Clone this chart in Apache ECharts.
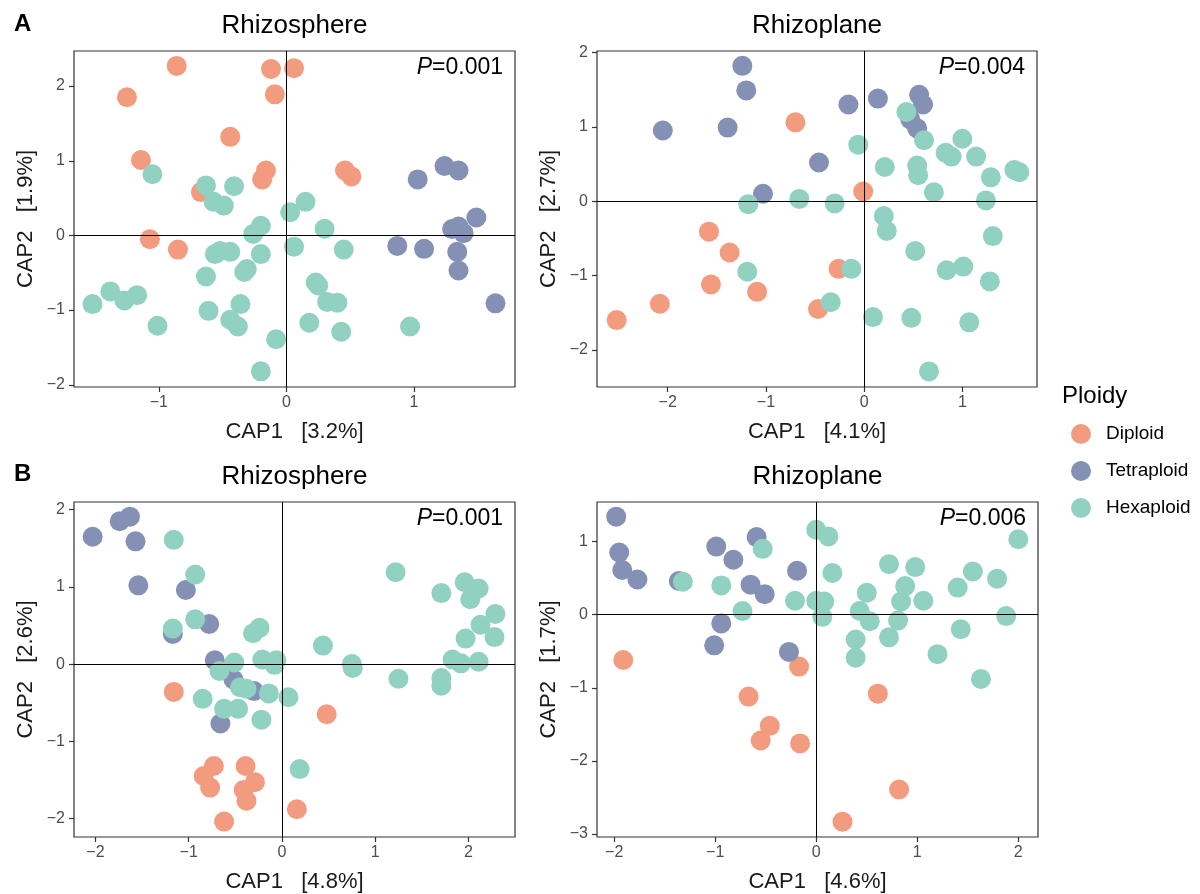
<!DOCTYPE html>
<html>
<head>
<meta charset="utf-8">
<script src="https://cdn.jsdelivr.net/npm/echarts@6/dist/echarts.min.js"></script>
<style>
  html, body { margin: 0; padding: 0; background: #fff; }
  #chart { width: 1200px; height: 894px; }
</style>
</head>
<body>
<div id="chart"></div>
<script>
// ---- data ----
const groups = ['Diploid', 'Tetraploid', 'Hexaploid'];
const colors = ['#F39B7F', '#8491B4', '#91D1C2'];

// A, Rhizosphere
const aSphereDiploid = [[-0.86, 2.27], [-1.25, 1.85], [-0.12, 2.23], [0.06, 2.24], [-0.09, 1.89], [-0.44, 1.32],
  [-1.14, 1.01], [-0.16, 0.87], [-0.19, 0.75], [0.46, 0.87], [0.51, 0.79], [-0.67, 0.58], [-1.07, -0.05], [-0.85, -0.19]];
const aSphereTetraploid = [[1.03, 0.75], [1.24, 0.93], [1.35, 0.87], [1.49, 0.24], [1.30, 0.085], [1.35, 0.12],
  [1.39, 0.03], [0.87, -0.14], [1.08, -0.18], [1.34, -0.22], [1.35, -0.47], [1.64, -0.91]];
const aSphereHexaploid = [[-1.05, 0.82], [-0.63, 0.67], [-0.41, 0.66], [-0.57, 0.45], [-0.49, 0.40], [0.15, 0.45],
  [0.03, 0.31], [-0.20, 0.13], [-0.26, 0.02], [0.30, 0.09], [-0.56, -0.25], [-0.52, -0.21], [-0.44, -0.22],
  [-0.20, -0.25], [0.06, -0.15], [0.45, -0.19], [-0.33, -0.49], [-0.31, -0.45], [-0.63, -0.55], [0.23, -0.63],
  [0.25, -0.67], [-1.38, -0.75], [-1.27, -0.87], [-1.17, -0.80], [-1.52, -0.92], [-0.36, -0.92], [-0.61, -1.01],
  [0.32, -0.89], [0.40, -0.90], [-1.01, -1.21], [-0.44, -1.13], [-0.38, -1.22], [0.18, -1.17], [0.43, -1.29],
  [0.97, -1.22], [-0.08, -1.39], [-0.20, -1.82]];

// A, Rhizoplane
const aPlaneDiploid = [[-2.52, -1.60], [-2.08, -1.38], [-1.58, -0.41], [-1.37, -0.69], [-1.56, -1.12], [-1.09, -1.22],
  [-0.70, 1.06], [-0.01, 0.13], [-0.26, -0.91], [-0.47, -1.45]];
const aPlaneTetraploid = [[-1.24, 1.82], [-1.20, 1.49], [-2.05, 0.95], [-1.39, 0.99], [-0.16, 1.30], [0.14, 1.38],
  [-0.46, 0.52], [-1.03, 0.10], [0.56, 1.43], [0.60, 1.30], [0.47, 1.10], [0.54, 0.98]];
const aPlaneHexaploid = [[0.43, 1.20], [0.61, 0.82], [-0.06, 0.76], [1.00, 0.84], [0.83, 0.65], [0.89, 0.60],
  [1.14, 0.60], [0.21, 0.46], [0.54, 0.48], [0.55, 0.35], [1.53, 0.42], [1.58, 0.39], [1.29, 0.32], [0.71, 0.12],
  [1.24, 0.01], [-0.66, 0.03], [-0.30, -0.03], [-1.18, -0.04], [0.20, -0.20], [0.23, -0.40], [1.31, -0.47],
  [0.52, -0.67], [-0.13, -0.91], [-1.19, -0.95], [0.84, -0.93], [1.01, -0.88], [1.28, -1.08], [-0.34, -1.36],
  [0.09, -1.56], [0.48, -1.57], [1.07, -1.63], [0.66, -2.29]];

// B, Rhizosphere
const bSphereDiploid = [[-1.16, -0.36], [0.48, -0.65], [-0.73, -1.32], [-0.84, -1.45], [-0.77, -1.60], [-0.39, -1.32],
  [-0.29, -1.53], [-0.41, -1.63], [-0.38, -1.77], [0.16, -1.88], [-0.62, -2.04]];
const bSphereTetraploid = [[-2.03, 1.65], [-1.74, 1.85], [-1.63, 1.91], [-1.57, 1.59], [-1.54, 1.02], [-1.03, 0.96],
  [-0.78, 0.52], [-1.17, 0.39], [-0.72, 0.05], [-0.52, -0.20], [-0.30, -0.35], [-0.66, -0.77]];
const bSphereHexaploid = [[-1.16, 1.61], [-0.93, 1.16], [-0.93, 0.58], [-1.17, 0.46], [-0.31, 0.40], [-0.24, 0.47],
  [-0.51, 0.02], [-0.67, -0.09], [-0.21, 0.06], [-0.06, 0.05], [-0.08, -0.01], [-0.45, -0.30], [-0.38, -0.32],
  [-0.14, -0.38], [0.07, -0.43], [-0.85, -0.45], [-0.62, -0.58], [-0.47, -0.58], [-0.22, -0.72], [0.44, 0.24],
  [0.75, 0.00], [0.76, -0.05], [1.22, 1.19], [1.25, -0.19], [1.71, 0.92], [1.96, 1.06], [2.11, 0.98], [2.02, 0.84],
  [2.29, 0.65], [2.13, 0.51], [1.97, 0.33], [2.28, 0.35], [1.83, 0.06], [1.92, 0.01], [2.11, 0.03], [1.71, -0.18],
  [1.71, -0.28], [0.19, -1.36]];

// B, Rhizoplane
const bPlaneDiploid = [[-1.91, -0.62], [-0.17, -0.71], [-0.67, -1.12], [-0.46, -1.52], [-0.55, -1.72], [-0.16, -1.76],
  [0.61, -1.08], [0.82, -2.39], [0.26, -2.83]];
const bPlaneTetraploid = [[-1.98, 1.34], [-1.95, 0.85], [-1.92, 0.61], [-1.77, 0.48], [-1.36, 0.46], [-0.99, 0.93],
  [-0.82, 0.75], [-0.59, 1.06], [-0.65, 0.41], [-0.51, 0.28], [-0.19, 0.60], [-0.94, -0.12], [-1.01, -0.42],
  [-0.27, -0.51]];
const bPlaneHexaploid = [[-1.32, 0.45], [-0.53, 0.90], [-0.94, 0.40], [-0.73, 0.05], [-0.21, 0.19], [0.00, 1.16],
  [0.12, 1.07], [0.16, 0.57], [0.00, 0.19], [0.08, 0.18], [0.06, -0.03], [0.43, 0.05], [0.50, 0.30], [0.53, -0.09],
  [0.39, -0.34], [0.39, -0.59], [0.72, 0.69], [0.88, 0.39], [0.84, 0.18], [0.81, -0.08], [0.72, -0.31], [0.98, 0.65],
  [1.06, 0.19], [1.40, 0.37], [1.55, 0.59], [1.43, -0.20], [1.20, -0.54], [1.79, 0.49], [1.88, -0.02], [2.00, 1.03],
  [1.63, -0.88]];

// tick labels
const aSphereXTicks = [-1, 0, 1];
const aSphereYTicks = [-2, -1, 0, 1, 2];
const aPlaneXTicks = [-2, -1, 0, 1];
const aPlaneYTicks = [-2, -1, 0, 1, 2];
const bSphereXTicks = [-2, -1, 0, 1, 2];
const bSphereYTicks = [-2, -1, 0, 1, 2];
const bPlaneXTicks = [-2, -1, 0, 1, 2];
const bPlaneYTicks = [-3, -2, -1, 0, 1];

const panels = [
  { title: 'Rhizosphere', p: '0.001', xName: 'CAP1   [3.2%]', yName: 'CAP2   [1.9%]',
    grid: { left: 74, top: 51, width: 441, height: 336 }, xRange: [-1.665, 1.793], yRange: [-2.03, 2.47],
    xTicks: aSphereXTicks, yTicks: aSphereYTicks, data: [aSphereDiploid, aSphereTetraploid, aSphereHexaploid] },
  { title: 'Rhizoplane', p: '0.004', xName: 'CAP1   [4.1%]', yName: 'CAP2   [2.7%]',
    grid: { left: 597, top: 51, width: 440, height: 336 }, xRange: [-2.72, 1.76], yRange: [-2.50, 2.02],
    xTicks: aPlaneXTicks, yTicks: aPlaneYTicks, data: [aPlaneDiploid, aPlaneTetraploid, aPlaneHexaploid] },
  { title: 'Rhizosphere', p: '0.001', xName: 'CAP1   [4.8%]', yName: 'CAP2   [2.6%]',
    grid: { left: 74, top: 502, width: 441, height: 335 }, xRange: [-2.23, 2.50], yRange: [-2.24, 2.10],
    xTicks: bSphereXTicks, yTicks: bSphereYTicks, data: [bSphereDiploid, bSphereTetraploid, bSphereHexaploid] },
  { title: 'Rhizoplane', p: '0.006', xName: 'CAP1   [4.6%]', yName: 'CAP2   [1.7%]',
    grid: { left: 597, top: 502, width: 441, height: 335 }, xRange: [-2.17, 2.195], yRange: [-3.04, 1.54],
    xTicks: bPlaneXTicks, yTicks: bPlaneYTicks, data: [bPlaneDiploid, bPlaneTetraploid, bPlaneHexaploid] }
];

const FONT = '"Liberation Sans", Arial, Helvetica, sans-serif';
const minus = v => String(v).replace('-', '\u2212');

const chart = echarts.init(document.getElementById('chart'));

const grids = [], xAxes = [], yAxes = [], series = [], titles = [];

panels.forEach((pn, i) => {
  grids.push(Object.assign({ show: true, borderColor: '#333', borderWidth: 1.2, backgroundColor: '#fff' }, pn.grid));

  const axisCommon = {
    axisLine: { show: false, onZero: false },
    splitLine: { show: false },
    nameTextStyle: { fontFamily: FONT, fontSize: 22, color: '#1a1a1a' },
    nameLocation: 'middle'
  };
  const tick = { show: true, length: 5, lineStyle: { color: '#333', width: 1.2 } };
  const label = { formatter: minus, fontFamily: FONT, fontSize: 16, color: '#4d4d4d' };

  xAxes.push(Object.assign({}, axisCommon, {
    type: 'value', gridIndex: i, position: 'bottom', min: pn.xRange[0], max: pn.xRange[1],
    name: pn.xName, nameGap: 34,
    axisTick: Object.assign({ customValues: pn.xTicks }, tick),
    axisLabel: Object.assign({ customValues: pn.xTicks, margin: 8 }, label)
  }));

  yAxes.push(Object.assign({}, axisCommon, {
    type: 'value', gridIndex: i, position: 'left', min: pn.yRange[0], max: pn.yRange[1],
    name: pn.yName, nameGap: 37,
    axisTick: Object.assign({ customValues: pn.yTicks }, tick),
    axisLabel: Object.assign({ customValues: pn.yTicks, margin: 9 }, label)
  }));

  groups.forEach((g, k) => {
    series.push({
      name: g, type: 'scatter', xAxisIndex: i, yAxisIndex: i,
      data: pn.data[k], symbolSize: 20,
      itemStyle: { color: colors[k], opacity: 1 },
      emphasis: { disabled: true },
      z: 2
    });
  });

  // zero lines
  series.push({
    type: 'scatter', xAxisIndex: i, yAxisIndex: i, data: [], z: 5,
    markLine: {
      silent: true, symbol: 'none', animation: false,
      label: { show: false },
      lineStyle: { color: '#000', width: 1, type: 'solid' },
      data: [{ xAxis: 0 }, { yAxis: 0 }]
    }
  });

  const cx = pn.grid.left + pn.grid.width / 2;
  titles.push({
    text: pn.title, left: cx, top: pn.grid.top - 38, textAlign: 'center', padding: 0,
    textStyle: { fontFamily: FONT, fontSize: 26, fontWeight: 'normal', color: '#000' }
  });
  titles.push({
    text: '{i|P}{n|=' + pn.p + '}', left: pn.grid.left + pn.grid.width - 12, top: pn.grid.top + 5,
    textAlign: 'right', padding: 0,
    textStyle: { fontWeight: 'normal', rich: {
      i: { fontFamily: FONT, fontSize: 23, fontStyle: 'italic', fontWeight: 'normal', color: '#000' },
      n: { fontFamily: FONT, fontSize: 23, fontWeight: 'normal', color: '#000' }
    } }
  });
});

titles.push({ text: 'A', left: 14, top: 12, padding: 0, textStyle: { fontFamily: FONT, fontSize: 24, fontWeight: 'bold', color: '#000' } });
titles.push({ text: 'B', left: 14, top: 462, padding: 0, textStyle: { fontFamily: FONT, fontSize: 24, fontWeight: 'bold', color: '#000' } });
titles.push({ text: 'Ploidy', left: 1062, top: 384, padding: 0, textStyle: { fontFamily: FONT, fontSize: 24, fontWeight: 'normal', color: '#000' } });

chart.setOption({
  animation: false,
  title: titles,
  legend: {
    data: groups, orient: 'vertical', left: 1071, top: 424, padding: 0,
    icon: 'circle', itemWidth: 40, itemHeight: 20, itemGap: 17,
    textStyle: { fontFamily: FONT, fontSize: 19, color: '#000' },
    selectedMode: false
  },
  grid: grids,
  xAxis: xAxes,
  yAxis: yAxes,
  series: series
});
</script>
</body>
</html>
